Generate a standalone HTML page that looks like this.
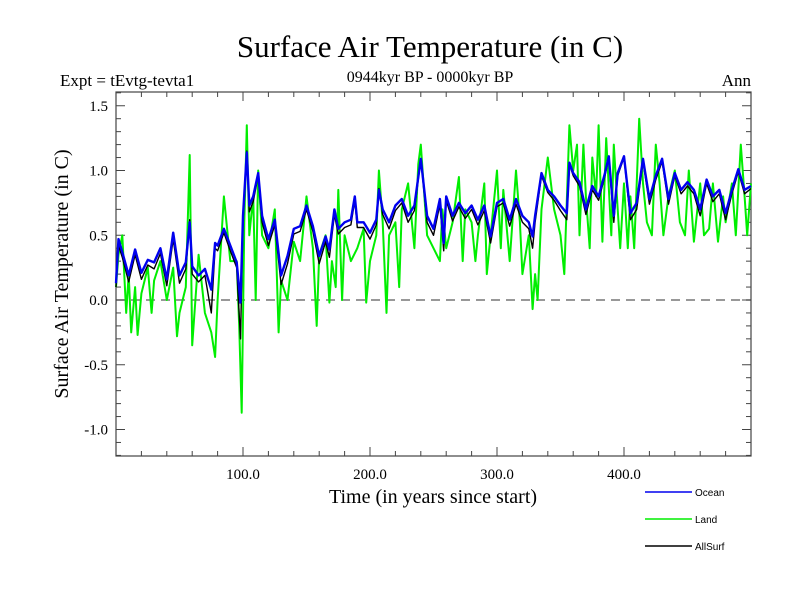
<!DOCTYPE html>
<html><head><meta charset="utf-8"><style>
body{margin:0;background:#fff}
svg{display:block}
text{font-family:"Liberation Serif",serif}
</style></head><body>
<svg id="chart" width="800" height="600" viewBox="0 0 800 600">
<text x="430" y="57" font-size="31" text-anchor="middle">Surface Air Temperature (in C)</text>
<text x="430" y="82" font-size="16" text-anchor="middle">0944kyr BP - 0000kyr BP</text>
<text x="60" y="86" font-size="17">Expt = tEvtg-tevta1</text>
<text x="751" y="86" font-size="17" text-anchor="end">Ann</text>
<text x="433" y="503" font-size="20" text-anchor="middle">Time (in years since start)</text>
<text transform="translate(68,274) rotate(-90)" font-size="20" text-anchor="middle">Surface Air Temperature (in C)</text>
<g id="axes"></g>
<g id="series"></g>
<g id="legend"></g>
</svg>
<script>
const oceanYears=[0,2,5,10,15,20,25,30,35,40,45,50,55,58,60,65,70,75,78,80,85,90,95,98,100,103,105,108,112,115,120,125,130,135,140,145,150,155,160,165,168,172,175,180,185,188,190,195,200,205,207,210,215,220,225,230,235,240,245,250,255,258,260,265,270,275,280,285,290,295,300,305,310,315,320,325,328,330,335,340,345,350,355,357,360,365,370,375,380,385,388,392,395,400,405,410,415,420,425,430,435,440,445,450,455,460,465,470,475,480,485,490,495,500];
const oceanValues=[0.13,0.47,0.37,0.19,0.39,0.21,0.31,0.29,0.40,0.16,0.52,0.19,0.29,0.60,0.26,0.19,0.24,0.08,0.44,0.42,0.55,0.42,0.29,-0.02,0.65,1.14,0.73,0.80,0.98,0.65,0.47,0.62,0.19,0.34,0.55,0.57,0.73,0.57,0.34,0.49,0.39,0.70,0.55,0.60,0.62,0.80,0.60,0.60,0.52,0.62,0.85,0.70,0.60,0.73,0.78,0.65,0.73,1.09,0.65,0.55,0.78,0.44,0.80,0.65,0.75,0.67,0.73,0.62,0.73,0.49,0.75,0.78,0.62,0.78,0.65,0.60,0.49,0.65,0.98,0.85,0.80,0.73,0.67,1.06,0.98,0.91,0.70,0.88,0.80,0.98,1.11,0.65,0.98,1.11,0.67,0.75,1.09,0.78,0.96,1.09,0.78,0.98,0.85,0.91,0.85,0.70,0.93,0.80,0.85,0.67,0.85,1.01,0.85,0.88];
const allSurfValues=[0.10,0.42,0.33,0.14,0.35,0.16,0.27,0.24,0.36,0.11,0.47,0.13,0.24,0.62,0.20,0.14,0.19,-0.10,0.40,0.38,0.52,0.38,0.25,-0.30,0.60,1.15,0.68,0.76,0.96,0.60,0.42,0.58,0.12,0.28,0.51,0.53,0.70,0.53,0.28,0.45,0.33,0.66,0.51,0.56,0.58,0.77,0.56,0.56,0.47,0.58,0.86,0.66,0.55,0.69,0.75,0.60,0.69,1.09,0.60,0.50,0.74,0.38,0.77,0.61,0.72,0.63,0.70,0.58,0.69,0.44,0.72,0.75,0.57,0.74,0.60,0.55,0.40,0.60,0.96,0.83,0.77,0.69,0.62,1.05,0.96,0.88,0.66,0.85,0.77,0.96,1.10,0.60,0.96,1.10,0.62,0.70,1.07,0.74,0.93,1.07,0.74,0.96,0.82,0.88,0.82,0.65,0.90,0.76,0.82,0.62,0.82,0.99,0.82,0.86];
const landYears=[0,2,5,8,10,12,15,17,20,25,28,30,35,40,45,48,50,55,58,60,65,70,75,78,80,85,90,95,97,99,101,103,105,108,110,112,115,120,125,128,130,135,140,145,150,155,158,160,165,168,170,173,175,178,180,185,190,195,197,200,205,207,210,213,215,220,223,225,230,235,238,240,245,250,255,257,260,265,270,273,275,280,283,285,290,292,295,300,303,305,310,315,318,320,325,328,330,332,335,340,345,350,353,357,360,363,365,368,370,373,375,378,380,383,386,390,392,395,397,400,403,405,408,412,415,418,422,425,428,431,435,440,444,448,451,455,460,463,467,470,474,478,480,485,488,492,495,497,500];
const landValues=[0.10,0.35,0.50,-0.10,0.20,-0.25,0.10,-0.27,0.05,0.25,-0.10,0.15,0.30,0.00,0.25,-0.28,-0.10,0.10,1.12,-0.35,0.35,-0.10,-0.25,-0.44,0.00,0.80,0.30,0.30,-0.20,-0.87,0.60,1.35,0.50,0.80,0.00,1.00,0.50,0.40,0.70,-0.25,0.15,0.00,0.45,0.30,0.80,0.40,-0.20,0.35,0.50,-0.02,0.30,0.10,0.85,0.00,0.50,0.30,0.40,0.55,-0.02,0.30,0.50,1.00,0.60,-0.10,0.50,0.60,0.10,0.70,0.90,0.40,1.05,1.20,0.50,0.40,0.30,0.70,0.40,0.60,0.95,0.30,0.70,0.60,0.30,0.50,0.90,0.20,0.50,1.00,0.40,0.85,0.30,1.00,0.60,0.20,0.50,-0.07,0.20,0.00,0.70,1.10,0.70,0.50,0.20,1.35,1.00,1.20,0.50,1.20,0.80,0.40,1.10,0.80,1.35,0.45,1.25,0.50,1.20,0.70,0.40,0.90,0.40,0.80,0.40,1.40,0.90,0.60,0.50,1.20,0.90,0.50,0.80,1.00,0.60,0.50,1.00,0.45,0.90,0.50,0.55,0.90,0.45,0.80,0.60,0.90,0.50,1.20,0.80,0.50,0.90];
const xTicks=[100,200,300,400];
const yTicks=[-1.0,-0.5,0.0,0.5,1.0,1.5];

const NS='http://www.w3.org/2000/svg';
const L=116,R=751,T=92,B=456;
const xs=v=>L+(v-0)/(500-0)*(R-L);
const ys=v=>300-v*129.5;
function mk(tag,attrs,parent){const e=document.createElementNS(NS,tag);for(const k in attrs)e.setAttribute(k,attrs[k]);parent.appendChild(e);return e;}
const axes=document.getElementById('axes'),series=document.getElementById('series'),legend=document.getElementById('legend');

const zero=mk('line',{x1:L,x2:R,y1:ys(0),y2:ys(0),stroke:'#777','stroke-width':1.5,'stroke-dasharray':'9,6'},axes);



for(let v=-1.2;v<=1.61;v+=0.1){const y=ys(Math.round(v*10)/10);if(y<T||y>B)continue;const major=Math.abs(Math.round(v*10)%5)===0;const len=major?9:5;
 mk('line',{x1:L,x2:L+len,y1:y,y2:y,stroke:'#444'},axes);mk('line',{x1:R,x2:R-len,y1:y,y2:y,stroke:'#444'},axes);}
for(let v=20;v<500;v+=20){const x=xs(v);const len=v%100===0?9:5;
 mk('line',{x1:x,x2:x,y1:B,y2:B-len,stroke:'#444'},axes);mk('line',{x1:x,x2:x,y1:T,y2:T+len,stroke:'#444'},axes);}
yTicks.forEach(v=>{const t=mk('text',{x:108,y:ys(v)+5,'font-size':15,'text-anchor':'end'},axes);t.textContent=v.toFixed(1);
 
 });
xTicks.forEach(v=>{const t=mk('text',{x:xs(v),y:479,'font-size':15,'text-anchor':'middle'},axes);t.textContent=v.toFixed(1);
 
 });

function path(xv,yv,color,w,name){const d=xv.map((x,i)=>(i?'L':'M')+xs(x).toFixed(1)+','+ys(yv[i]).toFixed(1)).join('');
 const p=mk('path',{d:d,fill:'none',stroke:color,'stroke-width':w,'stroke-linejoin':'round'},series);
 
 }
path(landYears,landValues,'#00ee00',2,'land-line');
path(oceanYears,allSurfValues,'#000',1.4,'allsurf-line');
path(oceanYears,oceanValues,'#0000ee',2.4,'ocean-line');

const frame=mk('rect',{x:L,y:T,width:R-L,height:B-T,fill:'none',stroke:'#444','stroke-width':1.2},axes);



[['Ocean','#0000ee',492],['Land','#00ee00',519],['AllSurf','#000',546]].forEach(([n,c,y])=>{
 const g=mk('g',{},legend);
 
 
 mk('line',{x1:645,x2:692,y1:y,y2:y,stroke:c,'stroke-width':1.5},g);
 const t=mk('text',{x:695,y:y+4,'font-size':10,style:'font-family:"Liberation Sans",sans-serif'},g);t.textContent=n;});
</script>
</body></html>
